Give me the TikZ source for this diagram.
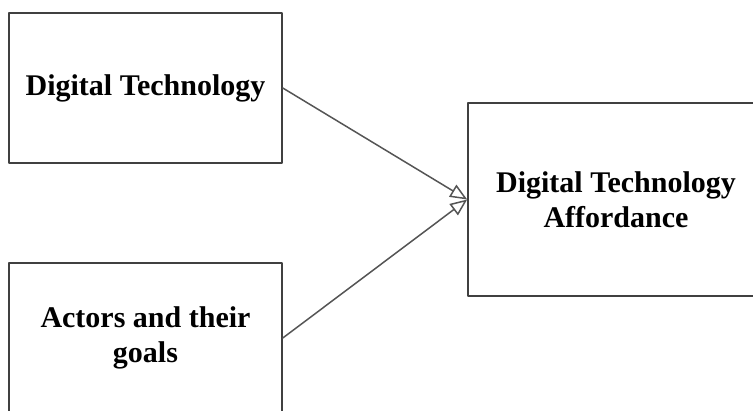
\documentclass[tikz,border=0pt]{standalone}
\usepackage{fontspec}
\setmainfont{Liberation Serif}
\usetikzlibrary{arrows.meta}
\definecolor{boxline}{HTML}{404040}
\definecolor{linkline}{HTML}{555555}
\begin{document}
\begin{tikzpicture}[x=1pt, y=-1pt, line cap=round, line join=round,
    factor/.style={draw=boxline, line width=1.6pt, fill=white, align=center,
      minimum width=273pt, minimum height=150pt, inner sep=0pt,
      font=\fontsize{30}{35}\selectfont\bfseries},
    link/.style={draw=linkline, line width=1.5pt,
      -{Triangle[open, length=17pt, width=14pt, fill=white]}}]
    % Page frame
    \useasboundingbox (0,0) rectangle (753,410);
    \clip (0,0) rectangle (753,410);

    % Boxes
    \node[factor] (tech) at (145.5,88) {Digital Technology};
    \node[factor] (actors) at (145.5,338) {Actors and their\\goals};
    \node[factor, minimum width=296pt, minimum height=193pt] (afford) at (616,199.5)
        {Digital Technology\\Affordance};

    % Links
    \draw[link] (tech.east) -- (afford.west);
    \draw[link] (actors.east) -- (afford.west);
\end{tikzpicture}
\end{document}
